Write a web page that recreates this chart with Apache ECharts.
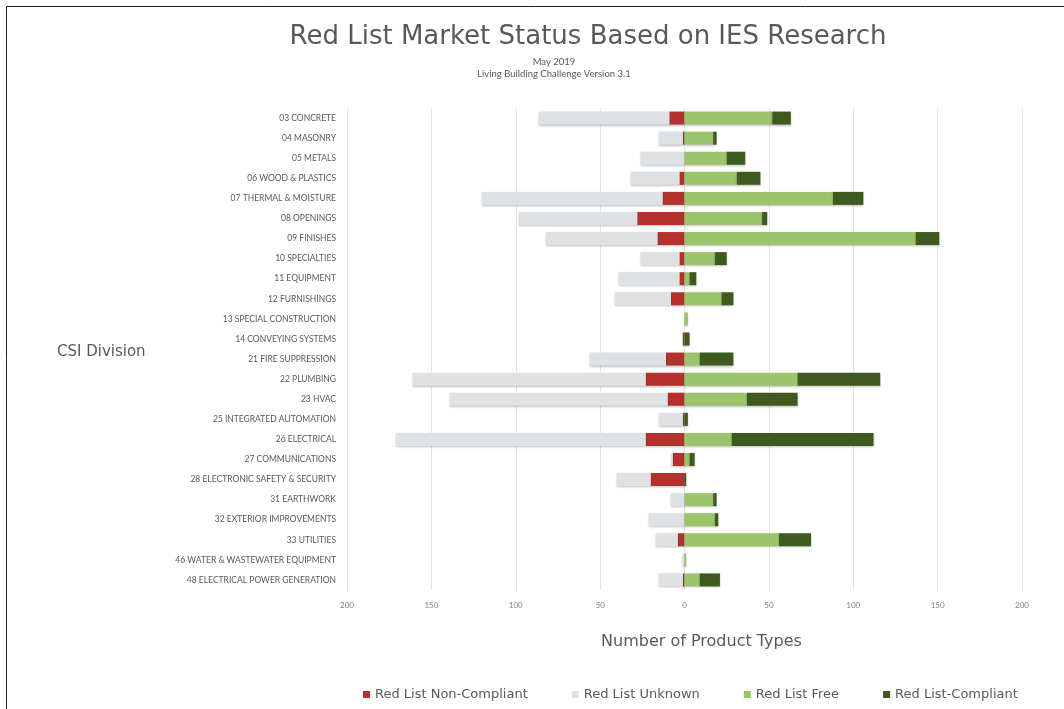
<!DOCTYPE html>
<html>
<head>
<meta charset="utf-8">
<script src="https://cdn.jsdelivr.net/npm/echarts@6/dist/echarts.min.js"></script>
<style>
  html, body { margin: 0; padding: 0; background: #fff; }
  #chart { width: 1064px; height: 709px; }
</style>
</head>
<body>
<div id="chart"></div>
<script>
// CSI divisions, top to bottom
var divisions = [
  '03 CONCRETE', '04 MASONRY', '05 METALS', '06 WOOD & PLASTICS',
  '07 THERMAL & MOISTURE', '08 OPENINGS', '09 FINISHES', '10 SPECIALTIES',
  '11 EQUIPMENT', '12 FURNISHINGS', '13 SPECIAL CONSTRUCTION', '14 CONVEYING SYSTEMS',
  '21 FIRE SUPPRESSION', '22 PLUMBING', '23 HVAC', '25 INTEGRATED AUTOMATION',
  '26 ELECTRICAL', '27 COMMUNICATIONS', '28 ELECTRONIC SAFETY & SECURITY', '31 EARTHWORK',
  '32 EXTERIOR IMPROVEMENTS', '33 UTILITIES', '46 WATER & WASTEWATER EQUIPMENT', '48 ELECTRICAL POWER GENERATION'
];

// counts of product types (left side drawn as negatives)
var nonCompliant = [9, 1, 0, 3, 13, 28, 16, 3, 3, 8, 0, 1, 11, 23, 10, 1, 23, 7, 20, 0, 0, 4, 0, 1];
var unknown      = [77, 14, 26, 29, 107, 70, 66, 23, 36, 33, 0, 0, 45, 138, 129, 14, 148, 1, 20, 8, 21, 13, 1, 14];
var redListFree  = [52, 17, 25, 31, 88, 46, 137, 18, 3, 22, 2, 0, 9, 67, 37, 0, 28, 3, 0, 17, 18, 56, 1, 9];
var compliant    = [11, 2, 11, 14, 18, 3, 14, 7, 4, 7, 0, 3, 20, 49, 30, 2, 84, 3, 1, 2, 2, 19, 0, 12];

var xTicks = [-200, -150, -100, -50, 0, 50, 100, 150, 200];

var textColor = '#595959';
var font = 'Lato';
var wideFont = 'DejaVu Sans';

function neg(arr) {
  return arr.map(function (v) { return -v; });
}

var barShadow = {
  shadowColor: 'rgba(0,0,0,0.25)',
  shadowBlur: 2,
  shadowOffsetY: 1
};

function barSeries(name, data, color) {
  return {
    name: name,
    type: 'bar',
    stack: 'total',
    barWidth: 13,
    data: data,
    itemStyle: Object.assign({ color: color }, barShadow)
  };
}

var myChart = echarts.init(document.getElementById('chart'));

var option = {
  backgroundColor: '#fff',
  textStyle: { fontFamily: font },
  title: [
    {
      text: 'Red List Market Status Based on IES Research',
      left: 583,
      textAlign: 'center',
      top: 19,
      textStyle: { fontSize: 26, fontWeight: 'normal', color: textColor, fontFamily: wideFont }
    },
    {
      text: 'May 2019\nLiving Building Challenge Version 3.1',
      left: 549,
      textAlign: 'center',
      top: 51,
      textStyle: { fontSize: 9.5, fontWeight: 'normal', color: textColor, lineHeight: 12, fontFamily: font }
    }
  ],
  legend: {
    left: 358,
    top: 683,
    itemWidth: 7,
    itemHeight: 7,
    itemGap: 44,
    icon: 'rect',
    textStyle: { fontSize: 13, color: textColor, fontFamily: wideFont },
    data: ['Red List Non-Compliant', 'Red List Unknown', 'Red List Free', 'Red List-Compliant']
  },
  grid: {
    left: 347,
    right: 42,
    top: 108,
    bottom: 119,
    containLabel: false
  },
  xAxis: {
    type: 'value',
    min: xTicks[0],
    max: xTicks[xTicks.length - 1],
    interval: 50,
    name: 'Number of Product Types',
    nameLocation: 'middle',
    nameGap: 44,
    nameTextStyle: { fontSize: 16, color: textColor, fontFamily: wideFont, padding: [0, 0, 0, 34] },
    axisLine: { show: false },
    axisTick: { show: false },
    axisLabel: {
      fontSize: 8,
      color: '#7f7f7f',
      margin: 11,
      formatter: function (v) { return Math.abs(v); }
    },
    splitLine: { lineStyle: { color: '#e4e4e4', width: 1 } }
  },
  yAxis: {
    type: 'category',
    inverse: true,
    data: divisions,
    axisLine: { show: false },
    axisTick: { show: false },
    axisLabel: { fontSize: 8.5, color: textColor, margin: 11, fontFamily: font }
  },
  graphic: [
    {
      type: 'text',
      left: 57,
      top: 345,
      style: { text: 'CSI Division', fontSize: 15, fill: textColor, fontFamily: wideFont }
    },
    {
      type: 'rect',
      shape: { x: 6.5, y: 6.5, width: 1200, height: 800 },
      style: { fill: 'none', stroke: '#222', lineWidth: 1 },
      silent: true
    }
  ],
  series: [
    barSeries('Red List Non-Compliant', neg(nonCompliant), '#b3322d'),
    barSeries('Red List Unknown', neg(unknown), '#dfe2e4'),
    barSeries('Red List Free', redListFree, '#9cc46b'),
    barSeries('Red List-Compliant', compliant, '#3e5a1f')
  ]
};

myChart.setOption(option);
</script>
</body>
</html>
